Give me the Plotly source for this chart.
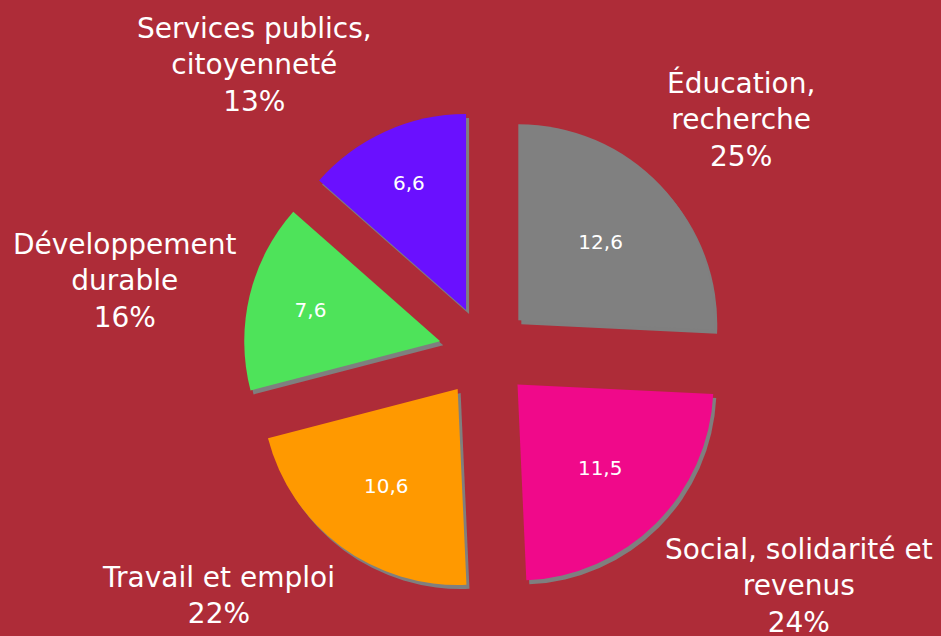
import plotly.graph_objects as go

categories = ["Éducation,<br>recherche", "Social, solidarité et<br>revenus",
              "Travail et emploi", "Développement<br>durable",
              "Services publics,<br>citoyenneté"]
values = [12.6, 11.5, 10.6, 7.6, 6.6]
value_labels = ["12,6", "11,5", "10,6", "7,6", "6,6"]
percent_labels = ["25%", "24%", "22%", "16%", "13%"]
colors = ["#808080", "#F0098A", "#FF9900", "#4EE35A", "#6A10FF"]

W, H = 941, 636
BG = "#AE2C38"
pull = 0.235

# pie domain in pixels (centre ~ (485, 352))
cx, cy, half = 485, 352, 242


def dom(dx=0, dy=0):
    x0 = (cx - half + dx) / W
    x1 = (cx + half + dx) / W
    y0 = 1 - (cy + half + dy) / H
    y1 = 1 - (cy - half + dy) / H
    return dict(x=[x0, x1], y=[y0, y1])


fig = go.Figure()
# shadow
fig.add_trace(go.Pie(
    values=values, labels=categories, sort=False, direction="clockwise",
    rotation=0, pull=[pull] * len(values),
    marker=dict(colors=["#7F7F7F"] * len(values), line=dict(width=0)),
    textinfo="none", hoverinfo="skip", showlegend=False,
    domain=dom(3, 4),
))
# main pie
fig.add_trace(go.Pie(
    values=values, labels=categories, sort=False, direction="clockwise",
    rotation=0, pull=[pull] * len(values),
    marker=dict(colors=colors, line=dict(width=0)),
    text=value_labels, textinfo="text", textposition="inside",
    insidetextorientation="horizontal",
    textfont=dict(family="DejaVu Sans", size=20, color="white"),
    showlegend=False, domain=dom(),
))

# outer labels (pixel centres)
label_pos = [(741, 119), (799, 586), (218, 595), (125, 281), (255, 65)]
for cat, pct, (lx, ly) in zip(categories, percent_labels, label_pos):
    fig.add_annotation(
        x=lx / W, y=1 - ly / H, xref="paper", yref="paper",
        text=f"{cat}<br>{pct}", showarrow=False,
        xanchor="center", yanchor="middle", align="center",
        font=dict(family="DejaVu Sans", size=28, color="white"),
    )

fig.update_layout(
    width=W, height=H, margin=dict(l=0, r=0, t=0, b=0),
    paper_bgcolor=BG, plot_bgcolor=BG,
    uniformtext=dict(minsize=20, mode="show"),
)
fig.write_html(
    "out.html",
    config={"displayModeBar": False},
    post_script="document.body.style.margin='0';"
                "document.body.style.overflow='hidden';"
                "document.body.style.background='" + BG + "';",
)
